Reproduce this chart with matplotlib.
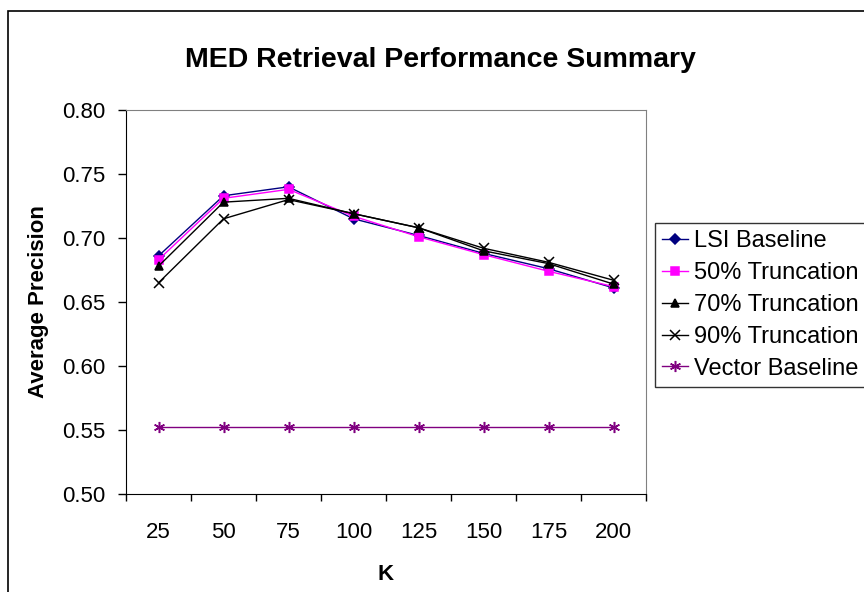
import matplotlib.pyplot as plt
from matplotlib.patches import Rectangle

plt.rcParams['font.family'] = ['Liberation Sans', 'DejaVu Sans']

k_values = ['25', '50', '75', '100', '125', '150', '175', '200']

lsi_baseline = [0.686, 0.733, 0.740, 0.715, 0.702, 0.688, 0.676, 0.661]
trunc_50 = [0.683, 0.731, 0.738, 0.717, 0.701, 0.687, 0.674, 0.662]
trunc_70 = [0.678, 0.728, 0.731, 0.719, 0.708, 0.690, 0.680, 0.664]
trunc_90 = [0.665, 0.715, 0.730, 0.719, 0.708, 0.692, 0.681, 0.667]
vector_baseline = [0.552, 0.552, 0.552, 0.552, 0.552, 0.552, 0.552, 0.552]

series = [
    ('LSI Baseline', lsi_baseline, '#000080', 'D', 5),
    ('50% Truncation', trunc_50, '#FF00FF', 's', 6),
    ('70% Truncation', trunc_70, '#000000', '^', 6),
    ('90% Truncation', trunc_90, '#000000', 'x', 7),
    ('Vector Baseline', vector_baseline, '#800080', (6, 2, 0), 8),
]

fig = plt.figure(figsize=(8.64, 5.92), dpi=100)
ax = fig.add_axes([126 / 864, 1 - 494 / 592, 520 / 864, 384 / 592])

x = list(range(len(k_values)))
for name, vals, col, mk, ms in series:
    ax.plot(x, vals, color=col, marker=mk, markersize=ms, linewidth=1.0,
            markeredgewidth=1.1, label=name, clip_on=False)

ax.set_ylim(0.50, 0.80)
ax.set_yticks([0.50, 0.55, 0.60, 0.65, 0.70, 0.75, 0.80])
ax.set_yticklabels(['%.2f' % v for v in ax.get_yticks()])
ax.set_xlim(-0.5, len(k_values) - 0.5)
ax.set_xticks([i - 0.5 for i in range(len(k_values) + 1)])
ax.set_xticklabels([])
ax.set_xticks(x, minor=True)
ax.set_xticklabels(k_values, minor=True)
ax.tick_params(axis='x', which='minor', length=0, pad=20, labelsize=16)
ax.tick_params(axis='x', which='major', length=5, width=1, direction='out')
ax.tick_params(axis='y', length=5.5, width=1, direction='out', labelsize=16, pad=9)

for side in ['top', 'right']:
    ax.spines[side].set_color('#808080')
for side in ['left', 'bottom']:
    ax.spines[side].set_color('#000000')

ax.set_xlabel('K', fontsize=16, fontweight='bold', labelpad=15)
ax.set_ylabel('Average Precision', fontsize=16, fontweight='bold', labelpad=10)

fig.text(440 / 864, 1 - 67 / 592, 'MED Retrieval Performance Summary',
         fontsize=20.5, fontweight='bold', ha='center', va='baseline')

leg = fig.legend(loc='upper left', bbox_to_anchor=(655 / 864, 1 - 223 / 592),
                 fontsize=17, frameon=True, fancybox=False, handlelength=1.1,
                 handletextpad=0.25, borderpad=0.3, labelspacing=0.42,
                 borderaxespad=0)
leg.get_frame().set_edgecolor('#000000')
leg.get_frame().set_linewidth(1)

fig.patches.append(Rectangle((8 / 864, -0.1), 1.2, 1 - 11 / 592 + 0.1,
                             transform=fig.transFigure, fill=False,
                             edgecolor='#000000', linewidth=1.2))

fig.savefig('out.png', dpi=100)
